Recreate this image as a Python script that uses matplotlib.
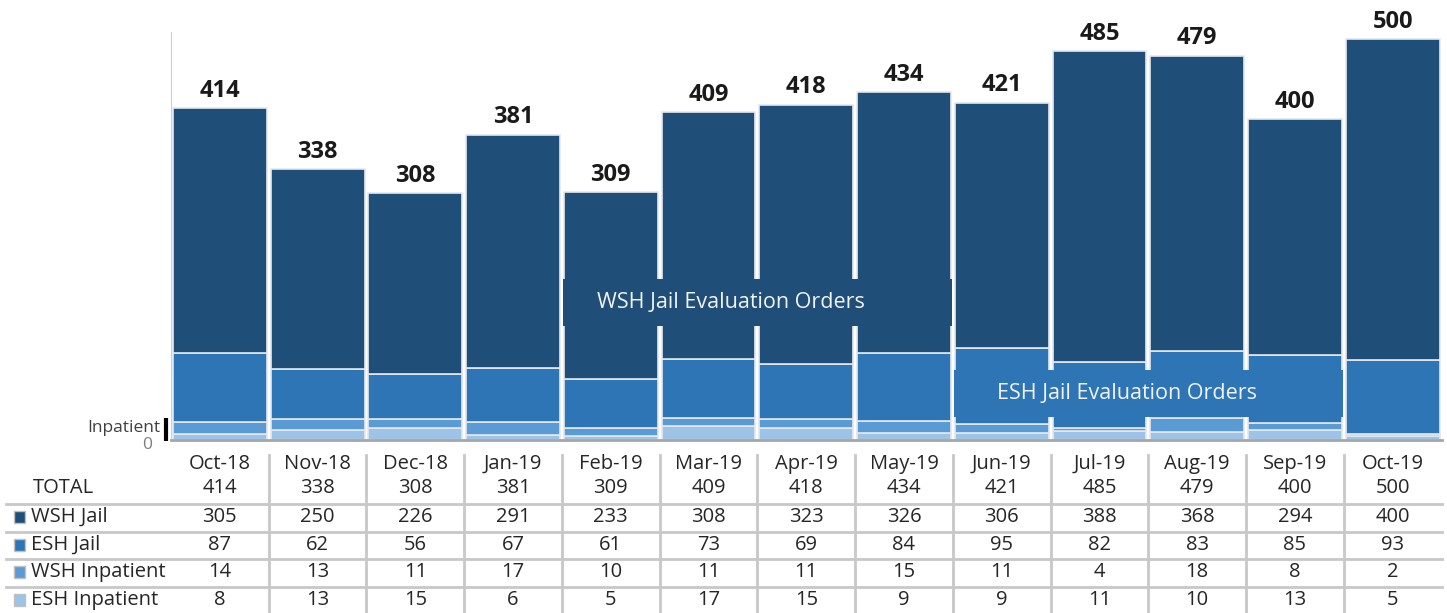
import matplotlib
matplotlib.use("Agg")
import matplotlib.pyplot as plt
from matplotlib.patches import Rectangle
import matplotlib.transforms as mtrans
import numpy as np

plt.rcParams['font.family'] = ['Open Sans', 'DejaVu Sans']

months = ["Oct-18", "Nov-18", "Dec-18", "Jan-19", "Feb-19", "Mar-19", "Apr-19",
          "May-19", "Jun-19", "Jul-19", "Aug-19", "Sep-19", "Oct-19"]
wsh_jail = [305, 250, 226, 291, 233, 308, 323, 326, 306, 388, 368, 294, 400]
esh_jail = [87, 62, 56, 67, 61, 73, 69, 84, 95, 82, 83, 85, 93]
wsh_inpatient = [14, 13, 11, 17, 10, 11, 11, 15, 11, 4, 18, 8, 2]
esh_inpatient = [8, 13, 15, 6, 5, 17, 15, 9, 9, 11, 10, 13, 5]
totals = [414, 338, 308, 381, 309, 409, 418, 434, 421, 485, 479, 400, 500]

series_names = ["WSH Jail", "ESH Jail", "WSH Inpatient", "ESH Inpatient"]
colors = {"WSH Jail": "#1F4E79", "ESH Jail": "#2E75B6",
          "WSH Inpatient": "#5B9BD5", "ESH Inpatient": "#9DC3E6"}
series = {"WSH Jail": wsh_jail, "ESH Jail": esh_jail,
          "WSH Inpatient": wsh_inpatient, "ESH Inpatient": esh_inpatient}

W, H = 1447, 613
fig = plt.figure(figsize=(W / 100, H / 100), dpi=100)

# main axes
ax_l, ax_r, ax_t, ax_b = 171, 1441.5, 32, 440
ax = fig.add_axes([ax_l / W, 1 - ax_b / H, (ax_r - ax_l) / W, (ax_b - ax_t) / H])
x = np.arange(len(months))
bottom = np.zeros(len(months))
for name in ["ESH Inpatient", "WSH Inpatient", "ESH Jail", "WSH Jail"]:
    vals = np.array(series[name])
    ax.bar(x, vals, bottom=bottom, width=0.96, color=colors[name],
           edgecolor="#E4E8EE", linewidth=1.2, zorder=2)
    bottom += vals

ax.set_xlim(-0.5, 12.5)
ax.set_ylim(0, 509)
ax.set_xticks([])
ax.set_yticks([])
for s in ["top", "right"]:
    ax.spines[s].set_visible(False)
ax.spines["left"].set_color("#D0D0D0")
ax.spines["bottom"].set_color("#A6A6A6")
ax.spines["bottom"].set_linewidth(2)

for xi, t in zip(x, totals):
    ax.annotate(str(t), (xi, t), xytext=(0, 4), textcoords="offset points",
                ha="center", va="bottom", fontsize=17, fontweight="bold",
                color="#1A1A1A")

# category boxes
ax.add_patch(Rectangle((4 - 0.49, 142), 3.98, 58.5, facecolor=colors["WSH Jail"],
                       edgecolor="none", zorder=3))
ax.text(3.86, 171, "WSH Jail Evaluation Orders", ha="left", va="center",
        fontsize=15.5, color="#F2F2F2", zorder=4)
ax.add_patch(Rectangle((8 - 0.49, 29), 3.98, 58.5, facecolor=colors["ESH Jail"],
                       edgecolor="none", zorder=3))
ax.text(7.95, 58, "ESH Jail Evaluation Orders", ha="left", va="center",
        fontsize=15.5, color="#F2F2F2", zorder=4)

# overlay axes in pixel coordinates for table
tab = fig.add_axes([0, 0, 1, 1], zorder=5)
tab.set_xlim(0, W)
tab.set_ylim(H, 0)
tab.axis("off")
tab.patch.set_alpha(0)

# Inpatient label, bracket and zero label
tab.text(160, 428, "Inpatient", ha="right", va="center", fontsize=12.5, color="#404040")
tab.text(147, 445, "0", ha="center", va="center", fontsize=12.5, color="#7F7F7F")
tab.plot([166, 166], [418, 441], color="black", lw=3, solid_capstyle="butt")

blend = mtrans.blended_transform_factory(ax.transData, tab.transData)
tcol = "#262626"
fs = 14.5
for xi, m in enumerate(months):
    tab.text(xi, 464, m, transform=blend, ha="center", va="center", fontsize=fs, color=tcol)
    tab.text(xi, 488, str(totals[xi]), transform=blend, ha="center", va="center",
             fontsize=fs, color=tcol)
row_y = [517, 545, 572, 600]
for ry, name in zip(row_y, series_names):
    for xi, v in enumerate(series[name]):
        tab.text(xi, ry, str(v), transform=blend, ha="center", va="center",
                 fontsize=fs, color=tcol)
    tab.add_patch(Rectangle((14, ry - 6), 11, 12, facecolor=colors[name],
                            edgecolor="#C0C0C0", linewidth=1))
    tab.text(31, ry, name, ha="left", va="center", fontsize=fs, color=tcol)
tab.text(33, 488, "TOTAL", ha="left", va="center", fontsize=fs, color=tcol)

# grid lines of the table
for hy in [504, 532, 559, 587]:
    tab.plot([6, 1442], [hy, hy], color="#C8C8C8", lw=2)
for xi in range(len(months) - 1):
    tab.plot([xi + 0.5, xi + 0.5], [455, 613], transform=blend, color="#C8C8C8", lw=2)

fig.savefig("out.png", dpi=100)
